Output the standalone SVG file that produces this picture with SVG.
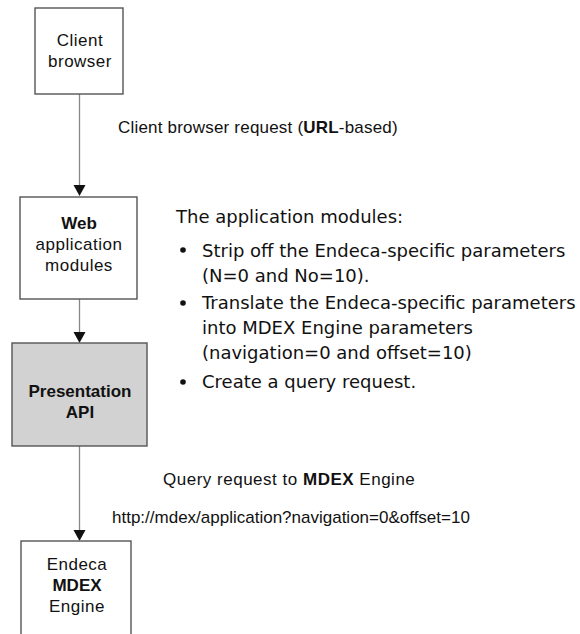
<svg xmlns="http://www.w3.org/2000/svg" width="580" height="634" viewBox="0 0 580 634">
<style>
.box{fill:#fff;stroke:#555;stroke-width:1.4}
.gray{fill:#d2d2d2;stroke:#555;stroke-width:1.4}
.lbl{font-family:"Liberation Sans",Arial,sans-serif;font-size:17px;fill:#111;text-anchor:middle;letter-spacing:0.5px}
.b{font-weight:bold}
.lbl.b{letter-spacing:0}
.cap{font-family:"Liberation Sans",Arial,sans-serif;font-size:17px;fill:#111;letter-spacing:0.2px}
.url{letter-spacing:0}
.note{font-family:"DejaVu Sans",Verdana,sans-serif;font-size:18px;fill:#111}
.conn{stroke:#888;stroke-width:1.3;fill:none}
.head{fill:#111}
.dot{fill:#111}
</style>
<g id="connectors">
<line class="conn" x1="79.5" y1="94" x2="79.5" y2="188"/>
<polygon class="head" points="73.5,185 85.5,185 79.5,196"/>
<line class="conn" x1="79.5" y1="299" x2="79.5" y2="335"/>
<polygon class="head" points="73.5,332 85.5,332 79.5,343"/>
<line class="conn" x1="79.5" y1="446" x2="79.5" y2="532"/>
<polygon class="head" points="73.5,530 85.5,530 79.5,541"/>
</g>
<g id="client-browser">
<rect class="box" x="35" y="8" width="88" height="86"/>
<text class="lbl" x="80" y="46">Client</text>
<text class="lbl" x="80" y="67">browser</text>
</g>
<g id="web-app-modules">
<rect class="box" x="20" y="197" width="117" height="102"/>
<text class="lbl b" x="79" y="229">Web</text>
<text class="lbl" x="79" y="250">application</text>
<text class="lbl" x="79" y="271">modules</text>
</g>
<g id="presentation-api">
<rect class="gray" x="12" y="343" width="135" height="103"/>
<text class="lbl b" x="80" y="397">Presentation</text>
<text class="lbl b" x="80" y="418">API</text>
</g>
<g id="mdex-engine">
<rect class="box" x="21" y="541" width="110" height="110"/>
<text class="lbl" x="77" y="570">Endeca</text>
<text class="lbl b" x="77" y="591">MDEX</text>
<text class="lbl" x="77" y="612">Engine</text>
</g>
<g id="labels">
<text class="cap" x="118" y="133">Client browser request (<tspan class="b">URL</tspan>-based)</text>
<text class="cap" x="163" y="485" textLength="252" lengthAdjust="spacing">Query request to <tspan class="b">MDEX</tspan> Engine</text>
<text class="cap url" x="112" y="523">http://mdex/application?navigation=0&amp;offset=10</text>
</g>
<g id="notes" class="note">
<text x="176" y="223">The application modules:</text>
<circle class="dot" cx="183" cy="250" r="2.8"/>
<text x="202" y="257">Strip off the Endeca-specific parameters</text>
<text x="202" y="282">(N=0 and No=10).</text>
<circle class="dot" cx="183" cy="303" r="2.8"/>
<text x="202" y="309">Translate the Endeca-specific parameters</text>
<text x="202" y="334">into MDEX Engine parameters</text>
<text x="202" y="359">(navigation=0 and offset=10)</text>
<circle class="dot" cx="183" cy="382" r="2.8"/>
<text x="202" y="388">Create a query request.</text>
</g>
</svg>
